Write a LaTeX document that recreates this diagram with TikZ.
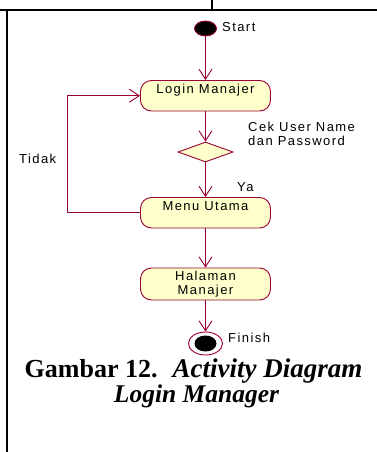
\documentclass[tikz,border=0pt]{standalone}
\usepackage{fontspec}
\setmainfont{Liberation Serif}
\newfontfamily\umlfont{Liberation Sans}[LetterSpace=11]
\usetikzlibrary{arrows.meta,shapes.geometric}
\definecolor{umlline}{RGB}{153,0,51}
\definecolor{umlfill}{RGB}{255,255,204}
\tikzset{
  uml/.style={font=\umlfont\fontsize{13}{14}\selectfont},
  actbox/.style={uml, draw=umlline, fill=umlfill, line width=0.9pt,
    rounded corners=11pt, minimum width=130pt, inner ysep=0pt,
    text height=12.5pt, text depth=18pt},
  decision/.style={draw=umlline, fill=umlfill, line width=0.9pt, shape=diamond,
    minimum width=55pt, minimum height=20pt, inner sep=0pt, aspect=2.75},
  flow/.style={draw=umlline, line width=0.9pt,
    -{Straight Barb[length=10pt,width=13pt,line width=0.9pt]}},
  tag/.style={uml, anchor=base west, inner sep=0pt},
  rule/.style={line width=2pt, black},
}
\begin{document}
\begin{tikzpicture}[x=1pt,y=-1pt]
\useasboundingbox (0,0) rectangle (377,452);
% table rules
\draw[rule] (0,10) -- (377,10);
\draw[rule] (211.5,0) -- (211.5,10);
\draw[rule] (7,10) -- (7,452);

% start node
\node[draw=umlline, fill=black, line width=0.9pt, ellipse,
      minimum width=22pt, minimum height=15pt, inner sep=0pt] (start) at (205.5,28.5) {};
\node[tag] (startlbl) at (222,32) {Start};

% activities
\node[actbox, anchor=base] (login) at (205.5,93) {Login Manajer};
\node[decision] (cek) at (205.5,152) {};
\node[uml, anchor=base west, inner sep=0pt, align=left] (ceklbl) at (248,145)
  {Cek User Name\\dan Password};
\node[actbox, anchor=base] (menu) at (205.5,210) {Menu Utama};
\node[tag] (ya) at (237,191) {Ya};
\node[tag] (tidak) at (19,163) {Tidak};
\node[uml, draw=umlline, fill=umlfill, line width=0.9pt, rounded corners=11pt,
      minimum width=130pt, minimum height=32pt, inner ysep=0pt, align=center]
  (halaman) at (205.5,284) {Halaman\\Manajer};

% finish node
\node[draw=umlline, fill=white, line width=0.9pt, ellipse,
      minimum width=34pt, minimum height=23pt, inner sep=0pt] (finish) at (205.5,343.5) {};
\node[fill=black, ellipse, minimum width=22pt, minimum height=16pt, inner sep=0pt]
  (finishdot) at (finish.center) {};
\node[tag] (finishlbl) at (228,342) {Finish};

% control flow
\coordinate (loopx) at (67,0);
\draw[flow] (start) -- (login);
\draw[flow] (login) -- (cek);
\draw[flow] (cek) -- (menu);
\draw[flow] (menu) -- (halaman);
\draw[flow] (halaman) -- (finish);
\draw[flow] (menu.west) -- (menu.west -| loopx) |- (login.west);

% caption
\node[font=\fontsize{26}{26}\selectfont\bfseries, anchor=base, inner sep=0pt]
  (cap1) at (193.5,377) {Gambar 12.\hspace{15pt}{\fontsize{27}{27}\selectfont\itshape Activity Diagram}};
\node[font=\fontsize{25.5}{26}\selectfont\bfseries\itshape, anchor=base, inner sep=0pt]
  (cap2) at (196.5,402) {Login Manager};
\end{tikzpicture}
\end{document}
